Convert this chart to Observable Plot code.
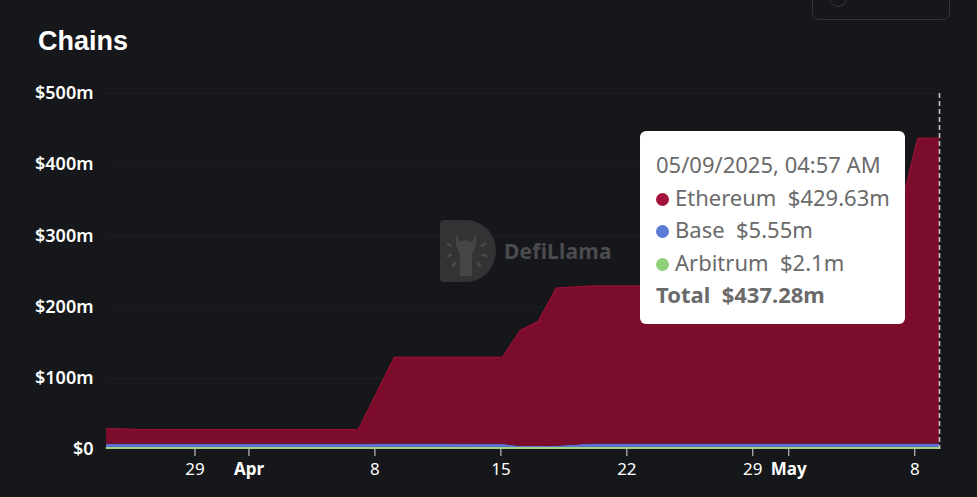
<!DOCTYPE html>
<html>
<head>
<meta charset="utf-8">
<script src="https://cdn.jsdelivr.net/npm/d3@7"></script>
<script src="https://cdn.jsdelivr.net/npm/@observablehq/plot@0.6"></script>
<style>
  html, body { margin: 0; padding: 0; background: #16171a; }
  #wrap { position: relative; width: 977px; height: 497px; background: #16171a; overflow: hidden; font-family: "Noto Sans", sans-serif; }
  #title { position: absolute; left: 38px; top: 26px; color: #fff; font: bold 27px "Liberation Sans", Arial, sans-serif; }
  #chart { position: absolute; left: 0; top: 80px; }
  #topbox { position: absolute; left: 812px; top: -12px; width: 136px; height: 30px; border: 1.5px solid #34353a; border-radius: 7px; }
  #topbox .c { position: absolute; left: 16px; top: 0px; width: 16px; height: 16px; border: 1.5px solid #34353a; border-radius: 50%; }
  #wm { position: absolute; left: 440px; top: 220px; display: flex; align-items: center; }
  #wm span { margin-left: 8px; font: bold 21px "Noto Sans", sans-serif; color: #4b4b4e; letter-spacing: 0.2px; }
  #tip { position: absolute; left: 640px; top: 131px; width: 265px; height: 193px; background: #fff; border-radius: 6px; box-sizing: border-box; padding: 17px 0 0 16px; color: #6a6a6a; font: 22px "Noto Sans", sans-serif; }
  #tip div { height: 32.5px; line-height: 32.5px; white-space: nowrap; }
  #tip .dot { display: inline-block; width: 13px; height: 13px; border-radius: 50%; margin-right: 6px; vertical-align: 0px; }
  #tip b { font-weight: bold; }
</style>
</head>
<body>
<div id="wrap">
  <div id="title">Chains</div>
  <div id="topbox"><div class="c"></div></div>
  <div id="chart"></div>
  <div id="wm">
    <svg width="56" height="62" viewBox="0 0 56 62">
      <path d="M4 0 H26 A30 31 0 0 1 26 62 H4 A4 4 0 0 1 0 58 V4 A4 4 0 0 1 4 0 Z" fill="#333336"/>
      <path d="M16 14 L20 22 L26 20 L32 22 L36 14 L36 26 L32 34 L32 56 L20 56 L20 34 L16 26 Z" fill="#454548"/>
      <g stroke="#4a4a4d" stroke-width="2.5" stroke-linecap="round">
        <line x1="8" y1="24" x2="11" y2="26"/><line x1="8" y1="36" x2="11" y2="35"/>
        <line x1="45" y1="24" x2="42" y2="26"/><line x1="46" y1="36" x2="43" y2="35"/>
        <line x1="40" y1="46" x2="38" y2="43"/><line x1="13" y1="46" x2="15" y2="43"/>
      </g>
    </svg>
    <span>DefiLlama</span>
  </div>
  <div id="tip">
    <div>05/09/2025, 04:57 AM</div>
    <div><span class="dot" style="background:#a3133c"></span>Ethereum&nbsp; $429.63m</div>
    <div><span class="dot" style="background:#5a7bd6"></span>Base&nbsp; $5.55m</div>
    <div><span class="dot" style="background:#8fd17a"></span>Arbitrum&nbsp; $2.1m</div>
    <div><b>Total&nbsp; $437.28m</b></div>
  </div>
</div>
<script>
// ---- data (values in $ millions) ----
const dates = ["2025-03-24T02:00Z", "2025-03-26T02:00Z", "2025-04-07T02:00Z", "2025-04-09T02:00Z",
  "2025-04-15T02:00Z", "2025-04-16T02:00Z", "2025-04-17T02:00Z", "2025-04-18T02:00Z",
  "2025-04-20T02:00Z", "2025-05-06T02:00Z", "2025-05-07T02:00Z", "2025-05-08T04:00Z", "2025-05-09T09:00Z"];
const ethereum = [22, 20.5, 20.5, 122, 122, 163, 176, 222, 222, 222, 318, 429.6, 429.63];
const base     = [5.5, 5.5, 5.5, 5.5, 5.4, 2.2, 2.0, 2.6, 5.5, 5.5, 5.55, 5.55, 5.55];
const arbitrum = [2.0, 2.0, 2.0, 2.1, 2.1, 2.1, 2.1, 2.1, 2.1, 2.1, 2.1, 2.1, 2.1];
const chains = ["Arbitrum", "Base", "Ethereum"];
const chainColors = ["#9fd27f", "#5f6fd0", "#7b0c2c"];
const yTicks = [0, 100, 200, 300, 400, 500];
const dayTicks = ["2025-03-29", "2025-04-08", "2025-04-15", "2025-04-22", "2025-04-29", "2025-05-08"];
const dayLabels = ["29", "8", "15", "22", "29", "8"];
const monthTicks = ["2025-04-01", "2025-05-01"];
const monthLabels = ["Apr", "May"];

const series = {Ethereum: ethereum, Base: base, Arbitrum: arbitrum};
const rows = [];
for (const c of chains) dates.forEach((d, i) => rows.push({date: new Date(d), chain: c, value: series[c][i]}));
const totals = dates.map((d, i) => ({date: new Date(d), value: ethereum[i] + base[i] + arbitrum[i]}));
const arbRows = dates.map((d, i) => ({date: new Date(d), value: arbitrum[i]}));
const dayT = dayTicks.map(d => new Date(d + "T00:00Z"));
const monT = monthTicks.map(d => new Date(d + "T00:00Z"));
const lastDate = new Date(dates[dates.length - 1]);

const plot = Plot.plot({
  width: 977,
  height: 417,
  marginLeft: 106,
  marginRight: 38,
  marginTop: 13,
  marginBottom: 48,
  style: {background: "transparent", color: "#fff", fontFamily: "Noto Sans, sans-serif"},
  x: {type: "utc"},
  y: {domain: [0, 500]},
  color: {domain: chains, range: chainColors},
  marks: [
    Plot.gridY(yTicks.slice(1), {stroke: "#1e1f23", strokeOpacity: 1}),
    Plot.areaY(rows, {x: "date", y: "value", fill: "chain", z: "chain", order: chains, fillOpacity: 1}),
    Plot.lineY(arbRows, {x: "date", y: "value", stroke: chainColors[0], strokeWidth: 2}),
    Plot.lineY(totals, {x: "date", y: "value", stroke: "#9a1238", strokeWidth: 1}),
    Plot.ruleX([lastDate], {stroke: "#c4c4cc", strokeDasharray: "5,3", strokeWidth: 1.6}),
    Plot.axisY({ticks: yTicks, tickSize: 0, tickPadding: 13, tickFormat: d => d === 0 ? "$0" : `$${d}m`,
      fontSize: 18, fontWeight: 600, fill: "#fff", label: null}),
    Plot.axisX({ticks: dayT, tickSize: 7, tickPadding: 6, stroke: "#ddd",
      tickFormat: (d, i) => dayLabels[i], fontSize: 17, fill: "#fff", label: null}),
    Plot.axisX({ticks: monT, tickSize: 7, tickPadding: 6, stroke: "#ddd",
      tickFormat: (d, i) => monthLabels[i], fontSize: 17, fontWeight: "bold", fill: "#fff", label: null})
  ]
});
document.getElementById("chart").appendChild(plot);
</script>
</body>
</html>
